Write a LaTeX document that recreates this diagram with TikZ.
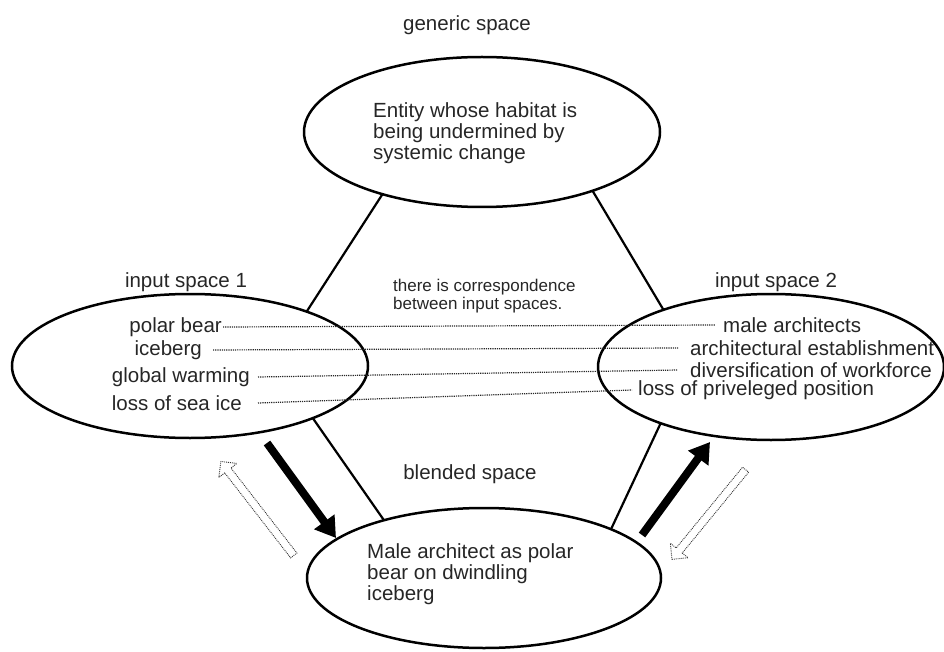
\documentclass[tikz,border=0pt]{standalone}
\usepackage{fontspec}
\setmainfont{Liberation Sans}
\usetikzlibrary{arrows.meta,shapes.geometric,shapes.arrows}
\definecolor{ink}{HTML}{262626}
\begin{document}
\begin{tikzpicture}[x=1pt,y=-1pt,
  space/.style={ellipse,draw,line width=2.5pt,inner sep=0pt,outer sep=0pt},
  lbl/.style={font=\fontsize{20.5}{20}\selectfont,text=ink,inner sep=0pt},
  body/.style={font=\fontsize{20.5}{21}\selectfont,text=ink,inner sep=0pt,align=left},
  note/.style={font=\fontsize{17}{18}\selectfont,text=ink,inner sep=0pt,align=left},
  link/.style={line width=2.2pt},
  corr/.style={densely dotted,line width=1.2pt,draw=black!85},
  mapto/.style={line width=8pt,-{Triangle[width=24pt,length=20pt]}},
  ghost/.style={single arrow,draw=black!80,densely dotted,line width=0.9pt,fill=white,
    inner sep=3.5pt,single arrow head extend=7.5pt,outer sep=0pt}
]
\useasboundingbox (0,0) rectangle (944,652);

% the four mental spaces
\node[space,minimum width=356pt,minimum height=150pt] (gen) at (482,132) {};
\node[space,minimum width=356pt,minimum height=144pt] (in1) at (190,366) {};
\node[space,minimum width=346pt,minimum height=146pt] (in2) at (771,367) {};
\node[space,minimum width=354pt,minimum height=140pt] (bl)  at (484,578) {};

% space titles
\node[lbl] (tgen) at (467,25)  {generic space};
\node[lbl] (tin1) at (186,282) {input space 1};
\node[lbl] (tin2) at (776,282) {input space 2};
\node[lbl] (tbl)  at (470,474) {blended space};

% contents of generic and blended spaces
\node[body,anchor=west] (cgen) at (373,133)
  {Entity whose habitat is\\being undermined by\\systemic change};
\node[body,anchor=west] (cbl) at (367,574)
  {Male architect as polar\\bear on dwindling\\iceberg};

\node[note,anchor=west] (cnote) at (393,296)
  {there is correspondence\\between input spaces.};

% lines joining the spaces
\draw[link] (gen.212.5) -- (in1.25.6);
\draw[link] (gen.332.7) -- (in2.152.8);
\draw[link] (in1.337)   -- (bl.150.6);
\draw[link] (in2.207.6) -- (bl.21.6);

% elements of input space 1
\node[lbl,anchor=east] (a1) at (222,327) {polar bear};
\node[lbl,anchor=east] (a2) at (202,350) {iceberg};
\node[lbl,anchor=east] (a3) at (250,377) {global warming};
\node[lbl,anchor=east] (a4) at (242,403) {loss of sea ice};

% elements of input space 2
\node[lbl,anchor=west] (b1) at (723,325) {male architects};
\node[lbl,anchor=west] (b2) at (690,348) {architectural establishment};
\node[lbl,anchor=west] (b3) at (690,370) {diversification of workforce};
\node[lbl,anchor=west] (b4) at (638,390) {loss of priveleged position};

% cross-space correspondences
\draw[corr] ([xshift=1pt]a1.east)  -- ([xshift=-8pt]b1.west);
\draw[corr] ([xshift=11pt]a2.east) -- ([xshift=-12pt]b2.west);
\draw[corr] ([xshift=8pt]a3.east)  -- ([xshift=-12pt]b3.west);
\draw[corr] ([xshift=16pt]a4.east) -- ([xshift=-6pt]b4.west);

% projection into and out of the blend
\coordinate (p1s) at (267,443);
\coordinate (p1e) at (336,538);
\coordinate (p2s) at (642,535);
\coordinate (p2e) at (710,442);
\draw[mapto] (p1s) -- (p1e);
\draw[mapto] (p2s) -- (p2e);

% back-projection (outlined arrows)
\node[ghost,minimum height=119pt,rotate=127.8] (g1) at (258.5,510) {};
\node[ghost,minimum height=116pt,rotate=230.6] (g2) at (710,513) {};
\end{tikzpicture}
\end{document}
